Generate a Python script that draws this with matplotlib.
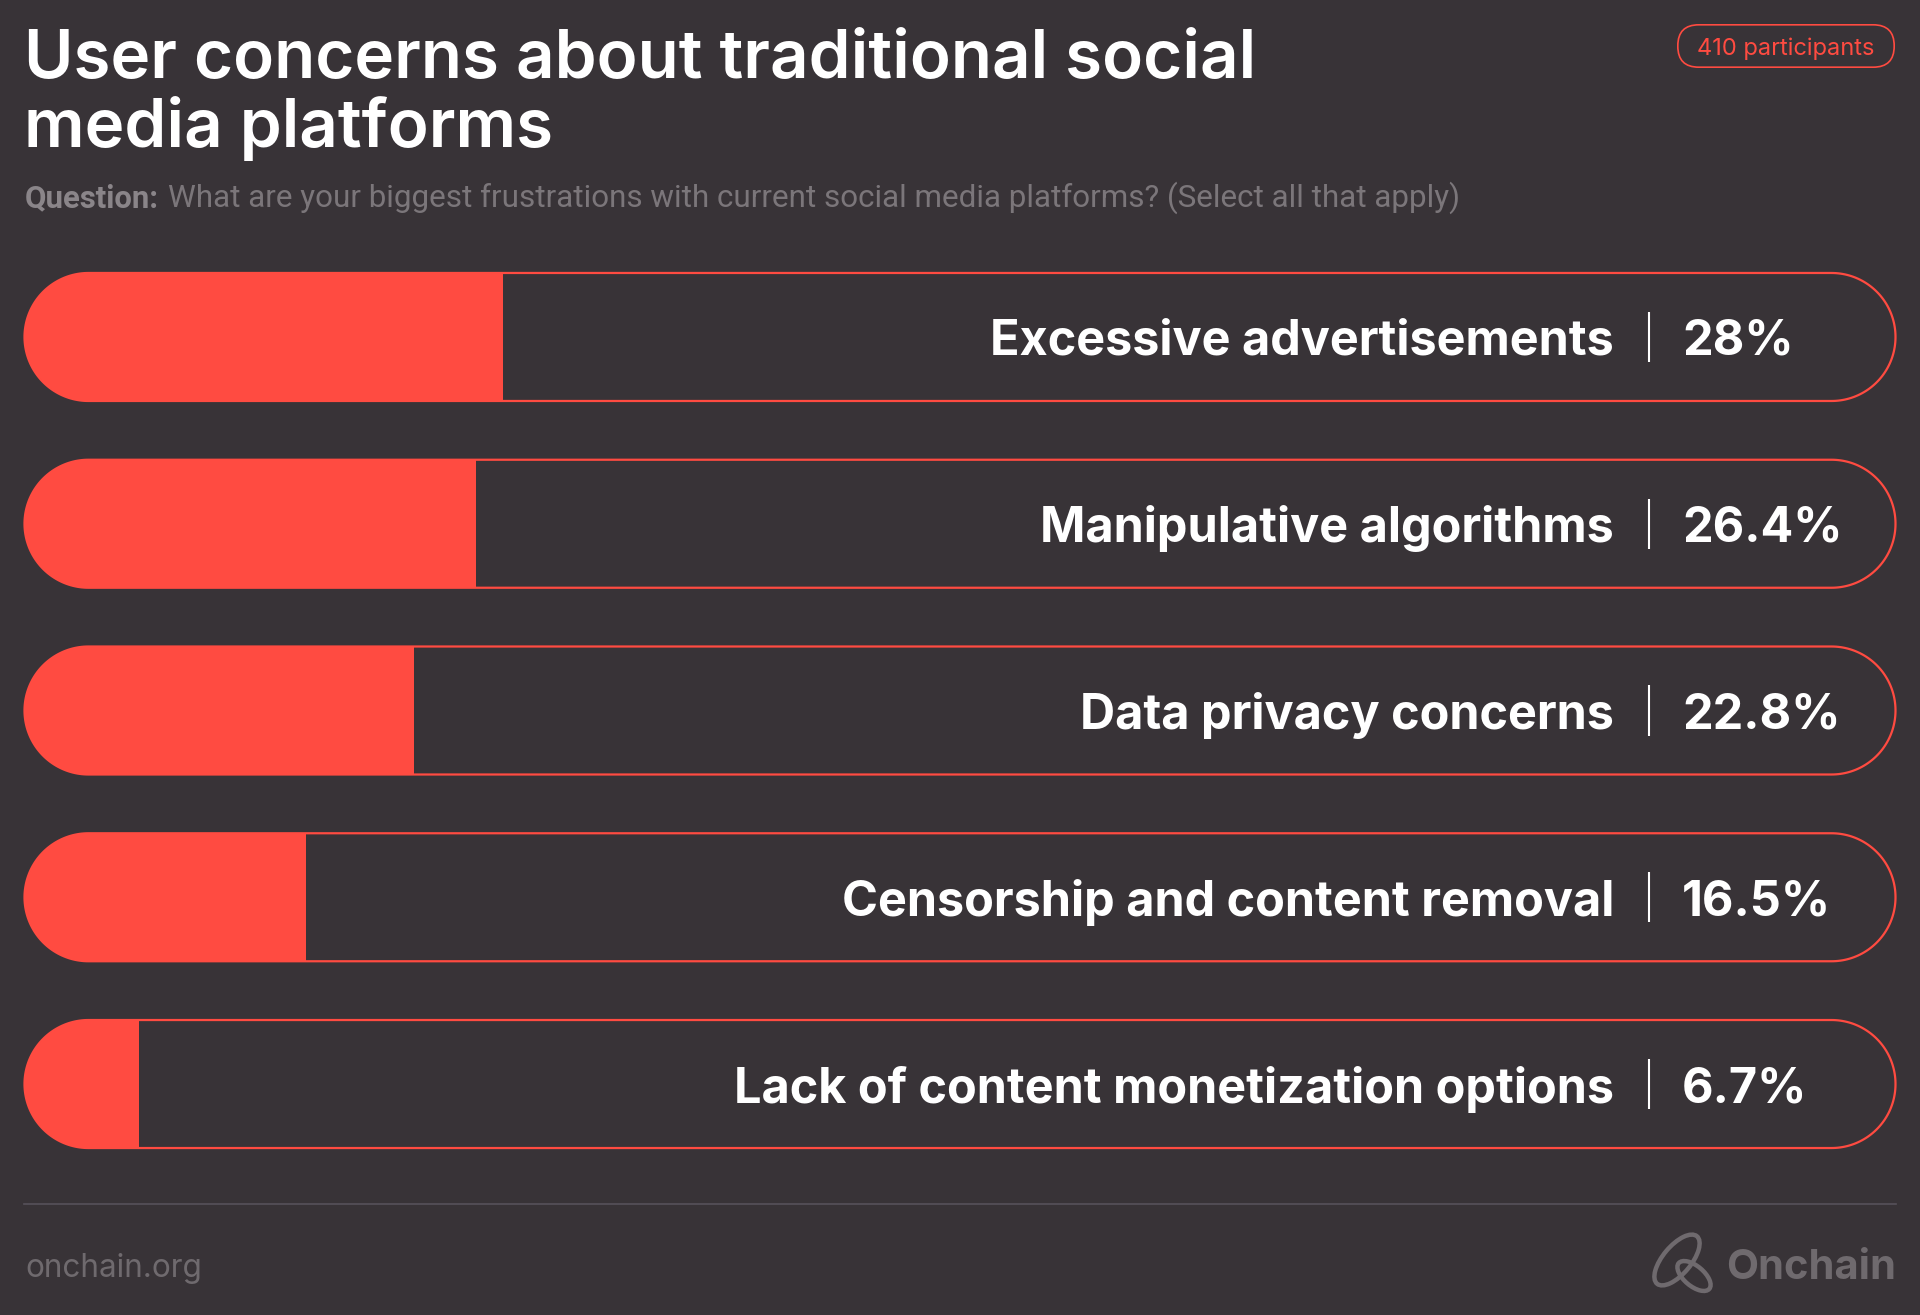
import matplotlib
matplotlib.use("Agg")
import numpy as np
import matplotlib.pyplot as plt
from matplotlib.patches import FancyBboxPatch, Rectangle, Ellipse, Polygon
from matplotlib.transforms import blended_transform_factory

# ---- data ----
categories = [
    "Excessive advertisements",
    "Manipulative algorithms",
    "Data privacy concerns",
    "Censorship and content removal",
    "Lack of content monetization options",
]
values = [28.0, 26.4, 22.8, 16.5, 6.7]
title_lines = ["User concerns about traditional social", "media platforms"]
question_label = "Question:"
question_text = "What are your biggest frustrations with current social media platforms? (Select all that apply)"
badge_text = "410 participants"
footer_left = "onchain.org"
footer_brand = "Onchain"

# ---- style ----
BG = "#383337"
RED = "#FF4B41"
WHITE = "#FFFFFF"
GREY_Q = "#8a8589"
GREY_T = "#7b767a"
GREY_F = "#6f6a6e"
GREY_LINE = "#57525a"
FONT = ["Inter", "DejaVu Sans"]
SUB_FONT = ["Roboto", "DejaVu Sans"]

W, H = 1920, 1315
fig = plt.figure(figsize=(W / 100, H / 100), dpi=100, facecolor=BG)
renderer = fig.canvas.get_renderer()


def fx(px):
    return px / W


def fy(py):
    return 1 - py / H


def fit_width(txt, target_px):
    """Scale a text's font size so its rendered width matches target_px."""
    for _ in range(3):
        w = txt.get_window_extent(renderer=renderer).width
        txt.set_fontsize(txt.get_fontsize() * target_px / w)


# Bars axes (padded a little so outlines are not clipped)
PAD = 10
left_px, right_px = 24.5, 1895.5
top_px, bot_px = 243.6, 1177.4
XMAX = 109.5
px_per_x = (right_px - left_px) / XMAX
ax = fig.add_axes([fx(left_px - PAD), fy(bot_px),
                   fx(right_px - left_px + 2 * PAD), (bot_px - top_px) / H])
ax.set_facecolor("none")
n = len(categories)
ax.set_xlim(-PAD / px_per_x, XMAX + PAD / px_per_x)
ax.set_ylim(n - 0.5, -0.5)
ax.axis("off")

px_per_y = (bot_px - top_px) / n
bar_h = 128 / px_per_y          # in category units
rx = 64 / px_per_x              # half-height expressed in x units
ry = bar_h / 2


def pill_vertices(x0, x1, yc):
    t_left = np.linspace(np.pi / 2, 3 * np.pi / 2, 90)
    t_right = np.linspace(-np.pi / 2, np.pi / 2, 90)
    left = np.column_stack([x0 + rx + rx * np.cos(t_left), yc + ry * np.sin(t_left)])
    right = np.column_stack([x1 - rx + rx * np.cos(t_right), yc + ry * np.sin(t_right)])
    return np.vstack([left, right])


# text anchor positions (fractions of the bar width)
def bar_frac(px):
    return (px - left_px) / (right_px - left_px) * XMAX


label_x = bar_frac(1614)
sep_x = bar_frac(1649)
pct_x = bar_frac(1682)

for i, (cat, v) in enumerate(zip(categories, values)):
    verts = pill_vertices(0, XMAX, i)
    clip = Polygon(verts, closed=True, facecolor="none", edgecolor="none")
    ax.add_patch(clip)
    fill = Rectangle((0, i - ry), v, bar_h, facecolor=RED, edgecolor="none")
    ax.add_patch(fill)
    fill.set_clip_path(clip)
    outline = Polygon(verts, closed=True, facecolor="none", edgecolor=RED,
                      linewidth=1.6, joinstyle="round")
    ax.add_patch(outline)

    ax.text(label_x, i, cat, ha="right", va="center_baseline",
            fontsize=35, fontweight="bold", color=WHITE, family=FONT)
    ax.plot([sep_x, sep_x], [i - 0.134, i + 0.134],
            color=WHITE, lw=1.5, solid_capstyle="butt")
    ax.text(pct_x, i, f"{v:g}%", ha="left", va="center_baseline",
            fontsize=35, fontweight="bold", color=WHITE, family=FONT)

# Title
tt1 = fig.text(fx(24), fy(78), title_lines[0], ha="left", va="baseline",
               fontsize=46, fontweight="semibold", color=WHITE, family=FONT)
fit_width(tt1, 1258 - 26)
fig.text(fx(24), fy(147), title_lines[1], ha="left", va="baseline",
         fontsize=tt1.get_fontsize(), fontweight="semibold", color=WHITE, family=FONT)

# Subtitle
t1 = fig.text(fx(25), fy(207), question_label, ha="left", va="baseline",
              fontsize=22, fontweight="bold", color=GREY_Q, family=SUB_FONT)
fit_width(t1, 159 - 25)
t2 = fig.text(fx(168), fy(207), question_text, ha="left", va="baseline",
              fontsize=22, color=GREY_T, family=SUB_FONT)
fit_width(t2, 1458 - 168)

# Badge
bax = fig.add_axes([fx(1677), fy(68), fx(1895 - 1677), 44 / H])
bax.set_xlim(0, 218)
bax.set_ylim(0, 44)
bax.axis("off")
bax.add_patch(FancyBboxPatch((0.8, 0.8), 216.4, 42.4,
                             boxstyle="round,pad=0,rounding_size=21",
                             facecolor="none", edgecolor=RED, linewidth=1.2))
bax.text(109, 22, badge_text, ha="center", va="center_baseline",
         fontsize=17, color=RED, family=FONT)

# Footer line
fig.add_artist(plt.Line2D([fx(24), fx(1896)], [fy(1204), fy(1204)],
                          color=GREY_LINE, lw=1.2))
fig.text(fx(25), fy(1277), footer_left, ha="left", va="baseline",
         fontsize=22.7, color=GREY_F, family=FONT)
fig.text(fx(1896), fy(1279), footer_brand, ha="right", va="baseline",
         fontsize=30, fontweight="bold", color=GREY_F, family=FONT)

# Logo icon
iax = fig.add_axes([fx(1650), fy(1296), fx(70), 66 / H])
iax.set_xlim(0, 70)
iax.set_ylim(0, 66)
iax.set_aspect("equal")
iax.axis("off")
iax.add_patch(Ellipse((27, 36), 62, 28, angle=50, facecolor="none",
                      edgecolor=GREY_F, lw=3.2))
iax.add_patch(Ellipse((44, 20), 40, 20, angle=-40, facecolor="none",
                      edgecolor=GREY_F, lw=3.2))

fig.savefig("out.png", dpi=100, facecolor=BG)
